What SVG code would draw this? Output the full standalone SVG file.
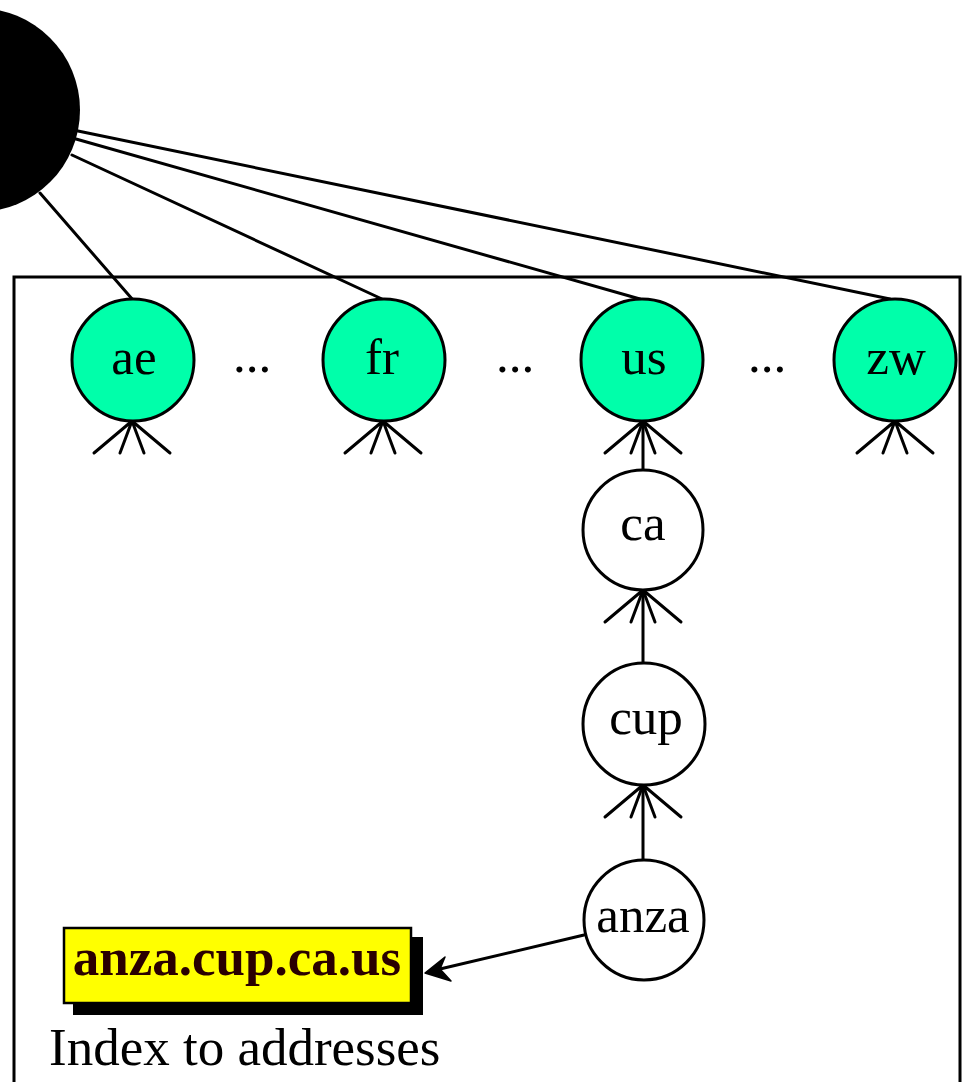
<svg xmlns="http://www.w3.org/2000/svg" width="966" height="1082" viewBox="0 0 966 1082">
<style>
.ln{stroke:#000;stroke-width:3;fill:none;stroke-linecap:round}
.tld{fill:#00ffaa;stroke:#000;stroke-width:3}
.sub{fill:#fff;stroke:#000;stroke-width:3}
.lbl{font-family:"Liberation Serif","Times New Roman",serif;font-size:51px;fill:#000;text-anchor:middle}
.foot{stroke:#000;stroke-width:3;fill:none;stroke-linecap:round}
</style>
<defs>
<g id="crow"><path class="foot" d="M0 0 L-38 32 M0 0 L-12 32 M0 0 L12 32 M0 0 L38 32"/></g>
</defs>
<rect x="14" y="277" width="946" height="830" fill="#fff" stroke="#000" stroke-width="3"/>
<g id="root"><circle cx="-22" cy="110" r="102" fill="#000"/></g>
<g id="connectors">
<line class="ln" x1="40" y1="193" x2="133" y2="300"/>
<line class="ln" x1="72" y1="155" x2="382" y2="299"/>
<line class="ln" x1="76" y1="139" x2="640" y2="299"/>
<line class="ln" x1="78" y1="131" x2="890" y2="299"/>
<use href="#crow" x="132" y="421"/>
<use href="#crow" x="383" y="421"/>
<use href="#crow" x="643" y="421"/>
<use href="#crow" x="895" y="421"/>
<line class="ln" x1="643" y1="421" x2="643" y2="470"/>
<use href="#crow" x="643" y="590"/>
<line class="ln" x1="643" y1="590" x2="643" y2="663"/>
<use href="#crow" x="643" y="785"/>
<line class="ln" x1="643" y1="785" x2="643" y2="860"/>
<line class="ln" x1="584" y1="935" x2="440" y2="969"/>
<path d="M425 973 L445 957 L440 969 L451 981 Z" fill="#000" stroke="#000" stroke-width="1.5" stroke-linejoin="round"/>
</g>
<g id="ae"><circle class="tld" cx="133" cy="360" r="61"/><text class="lbl" x="134" y="374">ae</text></g>
<g id="fr"><circle class="tld" cx="384" cy="360" r="61"/><text class="lbl" x="382" y="374">fr</text></g>
<g id="us"><circle class="tld" cx="642" cy="360" r="61"/><text class="lbl" x="644" y="374">us</text></g>
<g id="zw"><circle class="tld" cx="895" cy="360" r="61"/><text class="lbl" x="896" y="374">zw</text></g>
<g id="dots1"><text class="lbl" x="252" y="372">...</text></g>
<g id="dots2"><text class="lbl" x="515" y="372">...</text></g>
<g id="dots3"><text class="lbl" x="767" y="372">...</text></g>
<g id="ca"><circle class="sub" cx="643" cy="530" r="60"/><text class="lbl" x="643" y="540">ca</text></g>
<g id="cup"><circle class="sub" cx="644" cy="724" r="61"/><text class="lbl" x="646" y="734">cup</text></g>
<g id="anza"><circle class="sub" cx="644" cy="920" r="60"/><text class="lbl" x="643" y="932">anza</text></g>
<g id="address">
<rect x="73" y="937" width="350" height="78" fill="#000"/>
<rect x="64" y="928" width="347" height="75" fill="#ffff00" stroke="#000" stroke-width="2.5"/>
<text x="237" y="975" font-family="Liberation Serif, Times New Roman, serif" font-size="53" font-weight="bold" fill="#2a0000" text-anchor="middle">anza.cup.ca.us</text>
</g>
<g id="caption"><text x="49" y="1065" font-family="Liberation Serif, Times New Roman, serif" font-size="53" fill="#000">Index to addresses</text></g>
</svg>
